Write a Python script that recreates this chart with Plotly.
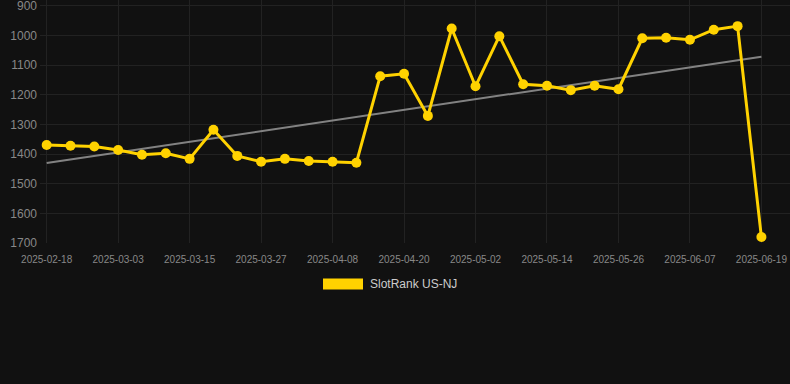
import numpy as np
import plotly.graph_objects as go

dates = ["2025-02-18", "2025-02-22", "2025-02-26", "2025-03-03", "2025-03-07", "2025-03-11",
         "2025-03-15", "2025-03-19", "2025-03-23", "2025-03-27", "2025-03-31", "2025-04-04",
         "2025-04-08", "2025-04-12", "2025-04-16", "2025-04-20", "2025-04-24", "2025-04-28",
         "2025-05-02", "2025-05-06", "2025-05-10", "2025-05-14", "2025-05-18", "2025-05-22",
         "2025-05-26", "2025-05-30", "2025-06-03", "2025-06-07", "2025-06-11", "2025-06-15",
         "2025-06-19"]
ranks = [1369, 1372, 1374, 1386, 1402, 1397, 1416, 1318, 1406, 1426, 1416, 1423, 1426, 1429,
         1137, 1129, 1271, 976, 1171, 1002, 1164, 1169, 1184, 1169, 1181, 1009, 1007, 1014,
         980, 968, 1680]
tick_dates = dates[::3]
y_ticks = [900, 1000, 1100, 1200, 1300, 1400, 1500, 1600, 1700]
series_name = "SlotRank US-NJ"

idx = np.arange(len(ranks))
slope, intercept = np.polyfit(idx, ranks, 1)
trend = (slope * idx + intercept).tolist()

W, H = 790, 384
ml, mr, mt, mb = 40, 0, 0, 141

fig = go.Figure()
fig.add_trace(go.Scatter(
    x=dates, y=trend, mode="lines",
    line=dict(color="rgba(150,150,150,0.85)", width=2),
    hoverinfo="skip", showlegend=False))
fig.add_trace(go.Scatter(
    x=dates, y=ranks, mode="lines+markers", name=series_name,
    line=dict(color="#FFD200", width=3),
    marker=dict(color="#FFD200", size=10),
    showlegend=False))

plot_h = H - mt - mb
leg_y_center = 284
fig.add_shape(type="rect", xref="paper", yref="paper",
              x0=(323 - ml) / (W - ml - mr), x1=(363 - ml) / (W - ml - mr),
              y0=(H - mb - 289.5) / plot_h, y1=(H - mb - 278.5) / plot_h,
              fillcolor="#FFD200", line=dict(width=0))
fig.add_annotation(text=series_name, xref="paper", yref="paper",
                   x=(368 - ml) / (W - ml - mr), y=(H - mb - leg_y_center) / plot_h,
                   xanchor="left", yanchor="middle", showarrow=False,
                   font=dict(family="Liberation Sans, Arial, sans-serif", size=12, color="#cccccc"))

fig.update_layout(
    width=W, height=H,
    margin=dict(l=ml, r=mr, t=mt, b=mb),
    paper_bgcolor="#111111", plot_bgcolor="#111111",
    font=dict(family="Liberation Sans, Arial, sans-serif", color="#888888"),
    xaxis=dict(type="category", range=[-0.28, 31.2],
               tickmode="array", tickvals=tick_dates, ticktext=tick_dates,
               tickfont=dict(size=10, color="#888888"),
               showgrid=True, gridcolor="#222222", gridwidth=1,
               zeroline=False, showline=False, ticklabeloverflow="allow",
               ticks="outside", ticklen=7, tickcolor="rgba(0,0,0,0)"),
    yaxis=dict(range=[1700, 879.8], tickmode="array", tickvals=y_ticks,
               tickfont=dict(size=12, color="#888888"),
               showgrid=True, gridcolor="#222222", gridwidth=1,
               zeroline=False, showline=False, ticks="", ticklabelstandoff=2,
               ticklabeloverflow="allow"),
    showlegend=False,
)

fig.write_html("out.html", config={"displayModeBar": False},
               post_script="document.body.style.margin='0';document.body.style.background='#111111';")
